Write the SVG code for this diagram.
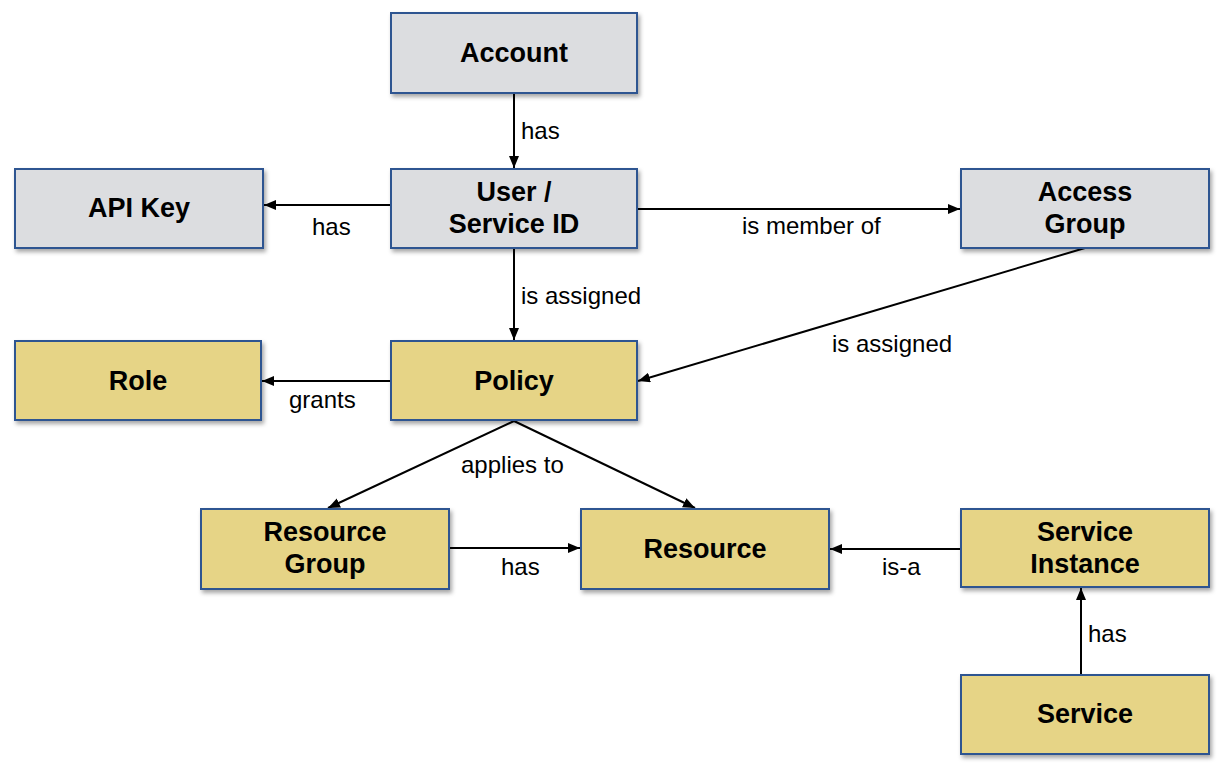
<svg xmlns="http://www.w3.org/2000/svg" width="1222" height="766" viewBox="0 0 1222 766">
<style>
.g rect{fill:#dcdde0;stroke:#2d5491;stroke-width:2}
.y rect{fill:#e6d486;stroke:#2d5491;stroke-width:2}
.n rect{filter:url(#sh)}
.n text{font-family:"Liberation Sans",Arial,sans-serif;font-weight:bold;font-size:27px;fill:#000;text-anchor:middle;dominant-baseline:central}
#edges line{stroke:#000;stroke-width:2;marker-end:url(#ah)}
.lbl{font-family:"Liberation Sans",Arial,sans-serif;font-size:24px;fill:#000}
</style>
<defs>
<filter id="sh" x="-10%" y="-10%" width="120%" height="130%">
<feDropShadow dx="2" dy="3" stdDeviation="2" flood-color="#000" flood-opacity="0.35"/>
</filter>
<marker id="ah" viewBox="0 0 12 10" refX="12" refY="5" markerWidth="12" markerHeight="10" markerUnits="userSpaceOnUse" orient="auto">
<path d="M0,0 L12,5 L0,10 z" fill="#000"/>
</marker>
</defs>
<rect width="1222" height="766" fill="#fff"/>
<g id="edges">
<line x1="514" y1="93" x2="514" y2="168"/>
<line x1="391" y1="205" x2="264" y2="205"/>
<line x1="637" y1="209" x2="960" y2="209"/>
<line x1="514" y1="248" x2="514" y2="340"/>
<line x1="1085" y1="248" x2="638" y2="381"/>
<line x1="391" y1="381" x2="262" y2="381"/>
<line x1="514" y1="421" x2="328" y2="508"/>
<line x1="514" y1="421" x2="695" y2="508"/>
<line x1="449" y1="548" x2="580" y2="548"/>
<line x1="961" y1="549" x2="830" y2="549"/>
<line x1="1081" y1="675" x2="1081" y2="588"/>
<text class="lbl" x="521" y="139">has</text>
<text class="lbl" x="312" y="235">has</text>
<text class="lbl" x="742" y="234">is member of</text>
<text class="lbl" x="521" y="304">is assigned</text>
<text class="lbl" x="832" y="352">is assigned</text>
<text class="lbl" x="289" y="408">grants</text>
<text class="lbl" x="461" y="473">applies to</text>
<text class="lbl" x="501" y="575">has</text>
<text class="lbl" x="882" y="575">is-a</text>
<text class="lbl" x="1088" y="642">has</text>
</g>
<g id="account" class="n g"><rect x="391" y="13" width="246" height="80"/><text x="514" y="53">Account</text></g>
<g id="apikey" class="n g"><rect x="15" y="169" width="248" height="79"/><text x="139" y="208">API Key</text></g>
<g id="user" class="n g"><rect x="391" y="169" width="246" height="79"/><text x="514" y="192">User /</text><text x="514" y="224">Service ID</text></g>
<g id="accessgroup" class="n g"><rect x="961" y="169" width="248" height="79"/><text x="1085" y="192">Access</text><text x="1085" y="224">Group</text></g>
<g id="role" class="n y"><rect x="15" y="341" width="246" height="79"/><text x="138" y="381">Role</text></g>
<g id="policy" class="n y"><rect x="391" y="341" width="246" height="79"/><text x="514" y="381">Policy</text></g>
<g id="resourcegroup" class="n y"><rect x="201" y="509" width="248" height="80"/><text x="325" y="532">Resource</text><text x="325" y="564">Group</text></g>
<g id="resource" class="n y"><rect x="581" y="509" width="248" height="80"/><text x="705" y="549">Resource</text></g>
<g id="serviceinstance" class="n y"><rect x="961" y="509" width="248" height="78"/><text x="1085" y="532">Service</text><text x="1085" y="564">Instance</text></g>
<g id="service" class="n y"><rect x="961" y="675" width="248" height="79"/><text x="1085" y="714">Service</text></g>
</svg>
